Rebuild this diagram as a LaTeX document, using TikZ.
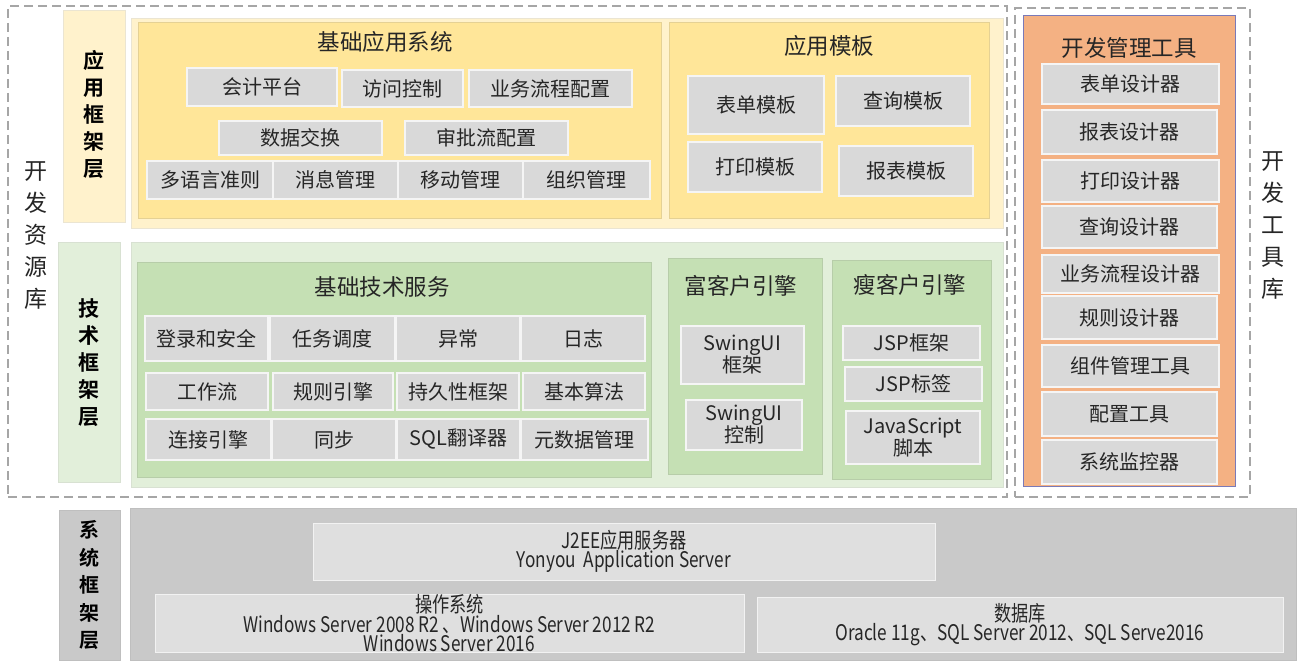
\documentclass[tikz,border=0pt]{standalone}
\usepackage{fontspec}
\setmainfont{Noto Sans CJK SC}
\newfontfamily\cjkb[BoldFont={* Bold}]{Noto Sans CJK SC}
\newfontfamily\cond[FakeStretch=0.8]{Noto Sans CJK SC}
\definecolor{dash}{HTML}{A6A6A6}
\definecolor{lyel}{HTML}{FFF2CC}
\definecolor{yel}{HTML}{FFE699}
\definecolor{lgrn}{HTML}{E2EFDA}
\definecolor{grn}{HTML}{C5E0B4}
\definecolor{org}{HTML}{F4B183}
\definecolor{itm}{HTML}{D9D9D9}
\definecolor{sysg}{HTML}{C9C9C9}
\definecolor{txt}{HTML}{262626}
\newcommand\bx[7]{%
 \node[#1, minimum width={(#5-#3)*1pt}, minimum height={(#6-#4)*1pt}] (#2) at ({(#3+#5)/2},{(#4+#6)/2}) {#7};}
\begin{document}
\begin{tikzpicture}[x=1pt,y=-1pt,
  base/.style={rectangle, inner sep=0pt, outer sep=0pt, text=txt, align=center},
  dbox/.style={base, draw=dash, dash pattern=on 9pt off 5pt, line width=2pt},
  lyelbox/.style={base, fill=lyel, draw=yel!60!gray!40, line width=0.8pt},
  yelbox/.style={base, fill=yel, draw=yel!80!gray, line width=0.8pt},
  lgrnbox/.style={base, fill=lgrn, draw=grn!70!gray!50, line width=0.8pt},
  grnbox/.style={base, fill=grn, draw=grn!80!gray, line width=0.8pt},
  orgbox/.style={base, fill=org, draw=blue!30!gray!80, line width=1pt},
  item/.style={base, fill=itm, draw=white!92!gray, line width=1.2pt, font=\fontsize{20}{22}\selectfont},
  sysbox/.style={base, fill=sysg, draw=gray!50, line width=0.8pt},
  sitem/.style={base, fill=itm!85!white, draw=white!90!gray, line width=1pt, font=\cond\fontsize{21.5}{19.5}\selectfont},
  ttl/.style={base, font=\fontsize{22.5}{26}\selectfont},
  vlab/.style={base, font=\fontsize{23}{32}\selectfont},
  blab/.style={base, font=\cjkb\bfseries\fontsize{21}{27}\selectfont, text=black}
]
\useasboundingbox (0,0) rectangle (1303,663);
% dashed groups
\bx{dbox}{res}{8}{6}{1007}{497}{}
\bx{dbox}{tools}{1015}{8}{1250}{497}{}
\node[vlab] (resl) at (36,236) {开\\发\\资\\源\\库};
\node[vlab] (tooll) at (1273,226) {开\\发\\工\\具\\库};

% application layer
\bx{lyelbox}{appl}{63}{10}{125}{222}{}
\node[blab] (appll) at (94,115) {应\\用\\框\\架\\层};
\bx{lyelbox}{appc}{131}{18}{1003}{228}{}
\bx{yelbox}{bas}{138}{22}{661}{218}{}
\node[ttl] (bast) at (385,42) {基础应用系统};
\bx{item}{a1}{187}{68}{337}{106}{会计平台}
\bx{item}{a2}{342}{70}{463}{107}{访问控制}
\bx{item}{a3}{469}{70}{632}{107}{业务流程配置}
\bx{item}{a4}{219}{121}{382}{155}{数据交换}
\bx{item}{a5}{405}{121}{568}{155}{审批流配置}
\bx{item}{a6}{147}{161}{273}{199}{多语言准则}
\bx{item}{a7}{273}{161}{398}{199}{消息管理}
\bx{item}{a8}{398}{161}{523}{199}{移动管理}
\bx{item}{a9}{523}{161}{650}{199}{组织管理}
\bx{yelbox}{tpl}{669}{22}{989}{218}{}
\node[ttl] (tplt) at (829,46) {应用模板};
\bx{item}{t1}{688}{76}{824}{134}{表单模板}
\bx{item}{t2}{836}{76}{970}{126}{查询模板}
\bx{item}{t3}{688}{142}{822}{192}{打印模板}
\bx{item}{t4}{839}{146}{973}{196}{报表模板}

% technology layer
\bx{lgrnbox}{tecl}{58}{242}{120}{482}{}
\node[blab] (tecll) at (89,363) {技\\术\\框\\架\\层};
\bx{lgrnbox}{tecc}{131}{242}{1003}{487}{}
\bx{grnbox}{bts}{137}{262}{651}{477}{}
\node[ttl] (btst) at (382,287) {基础技术服务};
\bx{item}{b1}{145}{316}{268}{361}{登录和安全}
\bx{item}{b2}{270}{316}{395}{361}{任务调度}
\bx{item}{b3}{396}{316}{520}{361}{异常}
\bx{item}{b4}{521}{316}{645}{361}{日志}
\bx{item}{b5}{146}{373}{268}{410}{工作流}
\bx{item}{b6}{273}{373}{393}{410}{规则引擎}
\bx{item}{b7}{397}{373}{519}{410}{持久性框架}
\bx{item}{b8}{523}{373}{645}{410}{基本算法}
\bx{item}{b9}{146}{419}{271}{460}{连接引擎}
\bx{item}{b10}{272}{419}{396}{460}{同步}
\bx{item}{b11}{397}{419}{520}{460}{SQL翻译器}
\bx{item}{b12}{521}{419}{648}{460}{元数据管理}
\bx{grnbox}{rich}{668}{258}{822}{474}{}
\node[ttl] (richt) at (741,286) {富客户引擎};
\bx{item}{r1}{681}{326}{804}{384}{SwingUI\\框架}
\bx{item}{r2}{686}{400}{802}{450}{SwingUI\\控制}
\bx{grnbox}{thin}{832}{260}{991}{479}{}
\node[ttl] (thint) at (910,285) {瘦客户引擎};
\bx{item}{s1}{843}{326}{980}{360}{JSP框架}
\bx{item}{s2}{845}{367}{982}{401}{JSP标签}
\bx{item}{s3}{846}{411}{980}{464}{JavaScript\\脚本}

% tools
\bx{orgbox}{dev}{1023}{16}{1235}{486}{}
\node[ttl] (devt) at (1129,48) {开发管理工具};
\bx{item}{d1}{1042}{64}{1219}{104}{表单设计器}
\bx{item}{d2}{1042}{110}{1217}{154}{报表设计器}
\bx{item}{d3}{1042}{160}{1219}{202}{打印设计器}
\bx{item}{d4}{1042}{206}{1217}{248}{查询设计器}
\bx{item}{d5}{1042}{255}{1219}{293}{业务流程设计器}
\bx{item}{d6}{1042}{296}{1217}{339}{规则设计器}
\bx{item}{d7}{1042}{345}{1219}{387}{组件管理工具}
\bx{item}{d8}{1042}{392}{1217}{436}{配置工具}
\bx{item}{d9}{1042}{440}{1217}{484}{系统监控器}

% system layer
\bx{sysbox}{sysl}{59}{510}{120}{660}{}
\node[blab, font=\cjkb\bfseries\fontsize{20}{27.5}\selectfont] (sysll) at (89,585) {系\\统\\框\\架\\层};
\bx{sysbox}{sysc}{130}{508}{1296}{660}{}
\bx{sitem}{j2ee}{313}{523}{935}{580}{J2EE应用服务器\\Yonyou\ \ Application Server}
\bx{sitem}{os}{155}{596}{744}{651}{操作系统\\Windows Server 2008 R2 、Windows Server 2012 R2\\Windows Server 2016}
\bx{sitem}{db}{757}{597}{1283}{652}{数据库\\Oracle 11g、SQL Server 2012、SQL Serve2016}
\end{tikzpicture}
\end{document}
